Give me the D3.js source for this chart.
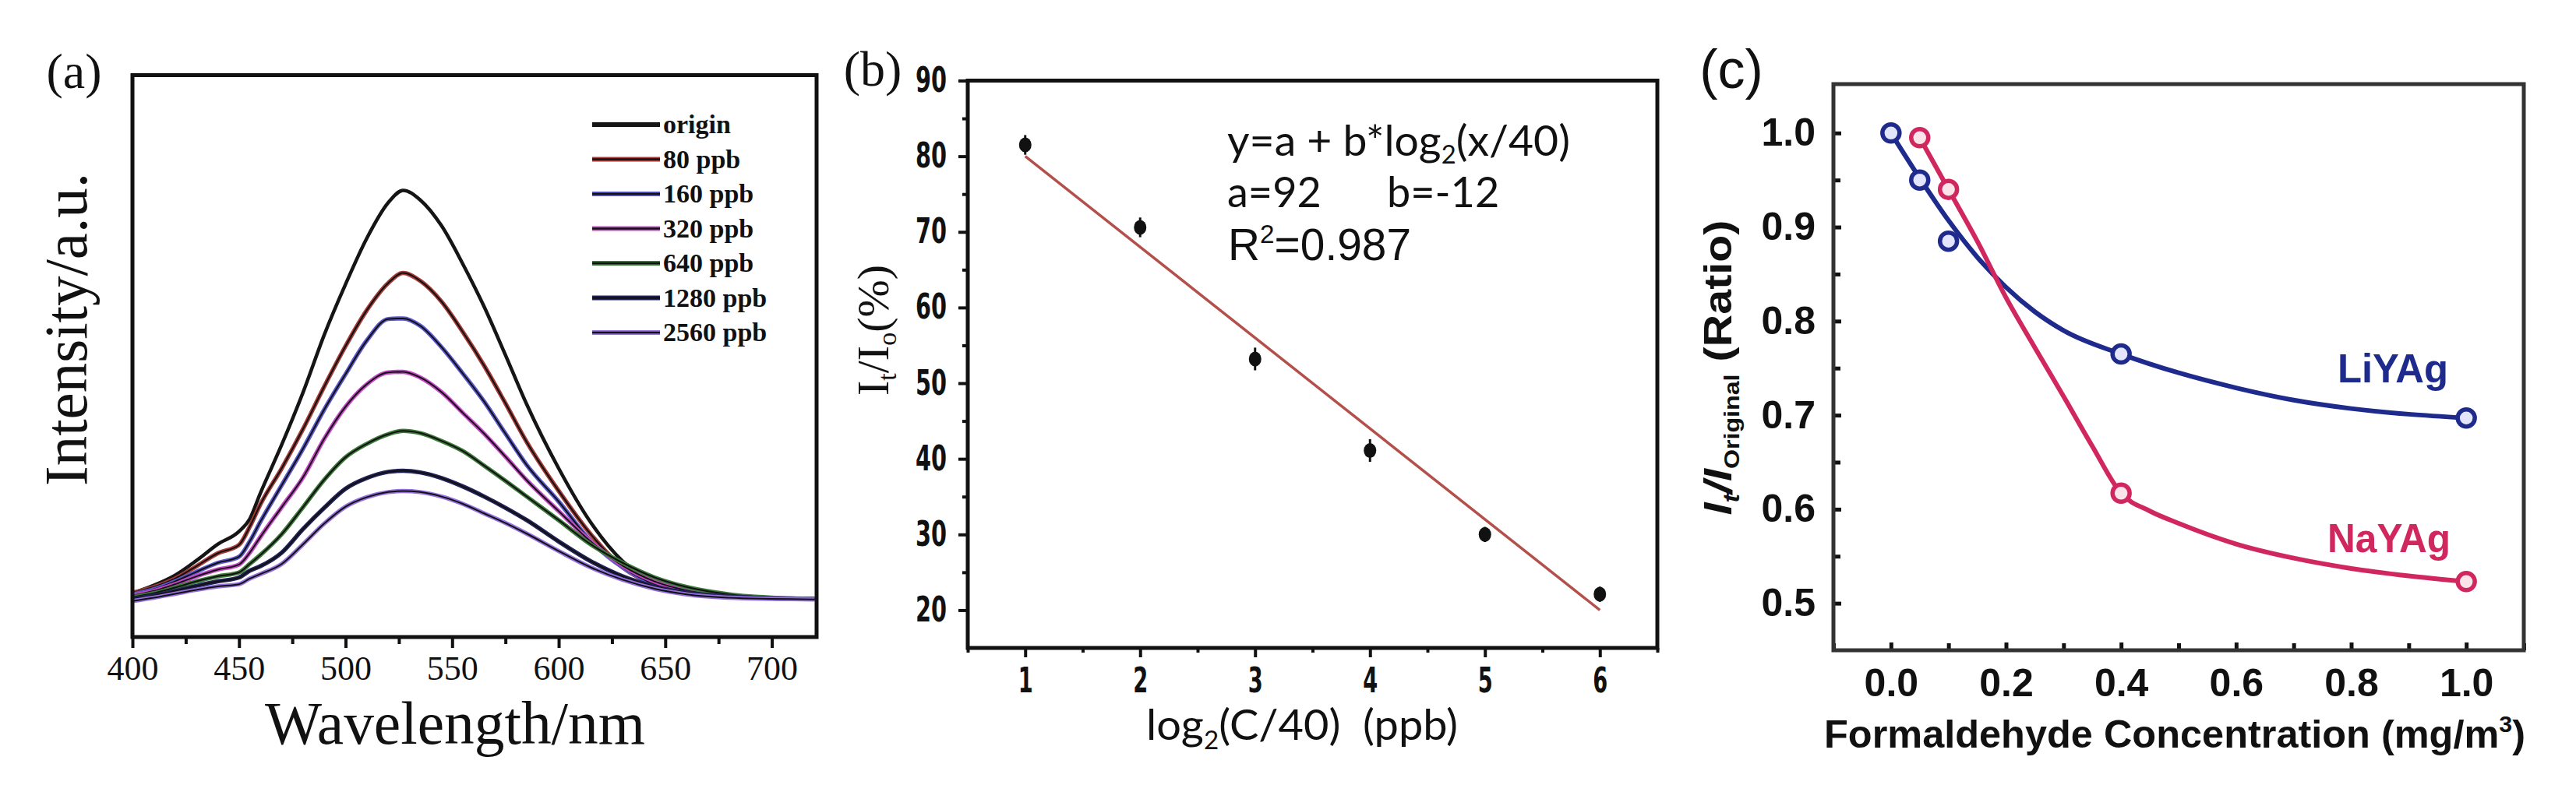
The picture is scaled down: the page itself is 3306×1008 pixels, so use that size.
<!DOCTYPE html>
<html>
<head>
<meta charset="utf-8">
<script src="https://cdn.jsdelivr.net/npm/d3@7"></script>
<style>
  body { margin: 0; background: #fff; }
  svg { display: block; }
</style>
</head>
<body>
<div id="wrapper"></div>
<script>
// ---- (a) emission spectra (a.u. = % of frame height)
const wavelengths = [400, 410, 420, 430, 440, 450, 455, 460, 470, 480, 490, 500, 510, 520, 527, 535, 545, 555, 565, 575, 585, 600, 615, 630, 645, 660, 680, 700, 720]
const spectraNames = ["origin", "80 ppb", "160 ppb", "320 ppb", "640 ppb", "1280 ppb", "2560 ppb"]
const specOrigin = [7.8, 9.2, 11.0, 13.6, 16.5, 18.8, 21.0, 25.6, 34.2, 43.5, 53.8, 62.8, 71.0, 77.3, 79.5, 77.8, 73.2, 66.4, 58.8, 50.2, 41.4, 30.0, 20.4, 13.5, 9.8, 8.0, 7.1, 6.9, 6.8]
const spec80 = [7.9, 8.9, 10.4, 12.6, 14.9, 16.4, 19.6, 23.6, 30.0, 37.0, 44.6, 51.8, 58.2, 63.0, 64.8, 63.4, 59.7, 54.3, 48.3, 41.6, 34.7, 26.0, 18.3, 12.4, 9.3, 7.8, 7.1, 6.9, 6.8]
const spec160 = [7.6, 8.5, 9.9, 11.6, 13.2, 14.3, 17.0, 20.5, 27.0, 33.5, 40.5, 46.8, 52.8, 56.6, 56.7, 55.4, 51.6, 46.9, 41.9, 36.2, 30.6, 24.1, 17.1, 12.4, 9.4, 8.0, 7.2, 6.9, 6.8]
const spec320 = [7.4, 8.2, 9.4, 10.8, 12.0, 12.9, 15.0, 17.8, 23.1, 28.4, 35.3, 41.0, 45.0, 47.1, 47.2, 46.2, 43.6, 39.9, 36.2, 32.1, 27.9, 22.4, 17.0, 12.7, 9.9, 8.3, 7.3, 6.9, 6.8]
const spec640 = [7.1, 7.8, 8.8, 9.9, 10.8, 11.5, 13.0, 14.6, 18.3, 23.1, 28.0, 32.0, 34.4, 36.1, 36.7, 36.3, 34.9, 33.1, 30.5, 27.8, 25.0, 20.8, 16.5, 13.2, 10.6, 8.9, 7.6, 7.0, 6.8]
const spec1280 = [6.8, 7.4, 8.2, 9.1, 9.9, 10.6, 11.8, 12.6, 15.0, 19.2, 23.0, 26.4, 28.3, 29.4, 29.6, 29.3, 28.3, 26.8, 25.0, 23.0, 20.8, 17.0, 13.5, 10.8, 9.0, 7.9, 7.2, 6.9, 6.8]
const spec2560 = [6.4, 7.0, 7.7, 8.4, 9.0, 9.4, 10.4, 11.2, 13.0, 16.5, 20.2, 23.2, 24.9, 25.8, 26.0, 25.8, 25.0, 23.7, 22.0, 20.3, 18.4, 15.3, 12.4, 10.2, 8.6, 7.6, 7.0, 6.8, 6.7]
const waveTicks = [400, 450, 500, 550, 600, 650, 700]
const waveMinorTicks = [425, 475, 525, 575, 625, 675]

// ---- (b) quenching vs log2(C/40)
const logConc = [1, 2, 3, 4, 5, 6]
const quenchPct = [81.5, 70.6, 53.2, 41.1, 30.0, 22.1]
const quenchErr = [1.3, 1.3, 1.5, 1.5, 1.0, 1.0]
const fitX = [1, 6]
const fitY = [80, 20]
const logTicks = [1, 2, 3, 4, 5, 6]
const logMinorTicks = [0.5, 1.5, 2.5, 3.5, 4.5, 5.5, 6.5]
const pctTicks = [20, 30, 40, 50, 60, 70, 80, 90]
const pctMinorTicks = [25, 35, 45, 55, 65, 75, 85]

// ---- (c) ratio vs formaldehyde concentration
const liConc = [0, 0.05, 0.1, 0.4, 1.0]
const liRatio = [1.0, 0.95, 0.885, 0.765, 0.697]
const naConc = [0.05, 0.1, 0.4, 1.0]
const naRatio = [0.995, 0.94, 0.617, 0.523]
const liFitConc = [0, 0.05, 0.1, 0.15, 0.2, 0.25, 0.3, 0.4, 0.5, 0.6, 0.7, 0.8, 0.9, 1.0]
const liFitRatio = [1.0, 0.952, 0.907, 0.868, 0.836, 0.81, 0.79, 0.765, 0.745, 0.729, 0.716, 0.707, 0.701, 0.697]
const naFitConc = [0.05, 0.1, 0.15, 0.2, 0.25, 0.3, 0.35, 0.4, 0.45, 0.5, 0.6, 0.7, 0.8, 0.9, 1.0]
const naFitRatio = [0.995, 0.94, 0.885, 0.825, 0.772, 0.72, 0.667, 0.617, 0.598, 0.585, 0.563, 0.548, 0.537, 0.529, 0.523]
const concTicks = [0, 0.2, 0.4, 0.6, 0.8, 1.0]
const concMinorTicks = [-0.1, 0.1, 0.3, 0.5, 0.7, 0.9, 1.1]
const ratioTicks = [0.5, 0.6, 0.7, 0.8, 0.9, 1.0]
const ratioMinorTicks = [0.55, 0.65, 0.75, 0.85, 0.95]

const serif = "'Liberation Serif', 'DejaVu Serif', serif"
const humanist = "Lato, 'Open Sans', sans-serif"
const heavy = "'DejaVu Sans', 'Liberation Sans', sans-serif"
const sans = "'Liberation Sans', Arial, sans-serif"
const ink = "#111"

const styleAxis = (g, font, size, weight, strokeWidth) => {
    g.select(".domain").remove()
    g.selectAll(".tick line").attr("stroke", ink).attr("stroke-width", strokeWidth)
    g.selectAll(".tick text")
        .attr("font-family", font)
        .attr("font-size", size)
        .attr("font-weight", weight)
        .attr("fill", ink)
}

// squeeze the narrow digit labels of panel (b)
const narrowDigits = (g, perDigit) => {
    g.selectAll(".tick text")
        .attr("textLength", d => String(d).length * perDigit)
        .attr("lengthAdjust", "spacingAndGlyphs")
}

function drawFigure() {
    const dimensions = { width: 3306, height: 1008 }

    const wrapper = d3.select("#wrapper")
        .append("svg")
        .attr("width", dimensions.width)
        .attr("height", dimensions.height)

    wrapper.append("rect")
        .attr("width", dimensions.width)
        .attr("height", dimensions.height)
        .attr("fill", "#fff")

    drawSpectra(wrapper)
    drawQuench(wrapper)
    drawRatio(wrapper)
}

// (a)
function drawSpectra(wrapper) {
    const box = { left: 170, right: 1048, top: 96.5, bottom: 818 }
    const bounds = wrapper.append("g").attr("class", "panel-a")

    const xScaler = d3.scaleLinear().domain([400, 721]).range([box.left, box.right])
    const yScaler = d3.scaleLinear().domain([0, 100]).range([box.bottom, box.top])

    const series = [specOrigin, spec80, spec160, spec320, spec640, spec1280, spec2560]
    const colors = ["#151515", "#a53a36", "#5a56cc", "#c648c8", "#3d7a3a", "#22225a", "#9470e0"]

    const lineGenerator = d3.line()
        .x((d, i) => xScaler(wavelengths[i]))
        .y(d => yScaler(d))
        .curve(d3.curveMonotoneX)

    series.forEach((values, i) => {
        bounds.append("path")
            .attr("d", lineGenerator(values))
            .attr("fill", "none")
            .attr("stroke", colors[i])
            .attr("stroke-width", i === 0 ? 4.5 : 5.5)
        if (i > 0) {
            bounds.append("path")
                .attr("d", lineGenerator(values))
                .attr("fill", "none")
                .attr("stroke", "#111")
                .attr("stroke-width", 2)
        }
    })

    // legend
    const legend = bounds.append("g")
    spectraNames.forEach((name, i) => {
        const ly = 160 + i * 44.5
        legend.append("line")
            .attr("x1", 760).attr("x2", 847).attr("y1", ly).attr("y2", ly)
            .attr("stroke", colors[i]).attr("stroke-width", 6)
        if (i > 0) {
            legend.append("line")
                .attr("x1", 760).attr("x2", 847).attr("y1", ly).attr("y2", ly)
                .attr("stroke", "#111").attr("stroke-width", 2.5)
        }
        legend.append("text")
            .attr("x", 851).attr("y", ly + 11)
            .attr("font-family", serif).attr("font-size", 34).attr("font-weight", "bold")
            .attr("fill", ink)
            .text(name)
    })

    bounds.append("g")
        .attr("transform", `translate(0,${box.bottom})`)
        .call(d3.axisBottom(xScaler).tickValues(waveMinorTicks).tickSize(9).tickFormat(""))
        .call(g => styleAxis(g, serif, 44, "normal", 4))

    bounds.append("g")
        .attr("transform", `translate(0,${box.bottom})`)
        .call(d3.axisBottom(xScaler).tickValues(waveTicks).tickSize(14).tickPadding(10)
            .tickSizeOuter(0).tickFormat(d3.format("d")))
        .call(g => styleAxis(g, serif, 44, "normal", 4))
        .call(g => g.selectAll(".tick text").attr("textLength", 66).attr("lengthAdjust", "spacingAndGlyphs"))

    bounds.append("rect")
        .attr("x", box.left).attr("y", box.top)
        .attr("width", box.right - box.left).attr("height", box.bottom - box.top)
        .attr("fill", "none").attr("stroke", ink).attr("stroke-width", 5)

    bounds.append("text")
        .attr("x", 95).attr("y", 113)
        .attr("text-anchor", "middle")
        .attr("font-family", serif).attr("font-size", 64).attr("fill", ink)
        .text("(a)")

    bounds.append("text")
        .attr("transform", "translate(111,423) rotate(-90)")
        .attr("text-anchor", "middle")
        .attr("font-family", serif).attr("font-size", 78).attr("fill", ink)
        .attr("textLength", 402).attr("lengthAdjust", "spacingAndGlyphs")
        .text("Intensity/a.u.")

    bounds.append("text")
        .attr("x", 584).attr("y", 955)
        .attr("text-anchor", "middle")
        .attr("font-family", serif).attr("font-size", 78).attr("fill", ink)
        .attr("textLength", 488).attr("lengthAdjust", "spacingAndGlyphs")
        .text("Wavelength/nm")
}

// (b)
function drawQuench(wrapper) {
    const box = { left: 1242, right: 2127, top: 103.5, bottom: 832 }
    const bounds = wrapper.append("g").attr("class", "panel-b")

    const xScaler = d3.scaleLinear().domain([0.5, 6.5]).range([box.left, box.right])
    const yScaler = d3.scaleLinear().domain([15, 90]).range([box.bottom, box.top])

    bounds.append("line")
        .attr("x1", xScaler(fitX[0])).attr("y1", yScaler(fitY[0]))
        .attr("x2", xScaler(fitX[1])).attr("y2", yScaler(fitY[1]))
        .attr("stroke", "#b4504c").attr("stroke-width", 3.5)

    const points = bounds.append("g")
        .selectAll("g")
        .data(logConc)
        .join("g")

    points.append("line")
        .attr("x1", d => xScaler(d)).attr("x2", d => xScaler(d))
        .attr("y1", (d, i) => yScaler(quenchPct[i] - quenchErr[i]))
        .attr("y2", (d, i) => yScaler(quenchPct[i] + quenchErr[i]))
        .attr("stroke", ink).attr("stroke-width", 3)

    points.append("ellipse")
        .attr("cx", d => xScaler(d))
        .attr("cy", (d, i) => yScaler(quenchPct[i]))
        .attr("rx", 8).attr("ry", 9.5)
        .attr("fill", ink)

    bounds.append("g")
        .attr("transform", `translate(0,${box.bottom})`)
        .call(d3.axisBottom(xScaler).tickValues(logMinorTicks).tickSize(6).tickFormat(""))
        .call(g => styleAxis(g, heavy, 44, "bold", 4))
    bounds.append("g")
        .attr("transform", `translate(0,${box.bottom})`)
        .call(d3.axisBottom(xScaler).tickValues(logTicks).tickSize(12).tickPadding(14)
            .tickSizeOuter(0).tickFormat(d3.format("d")))
        .call(g => styleAxis(g, heavy, 44, "bold", 4))
        .call(g => narrowDigits(g, 19))

    bounds.append("g")
        .attr("transform", `translate(${box.left},0)`)
        .call(d3.axisLeft(yScaler).tickValues(pctMinorTicks).tickSize(7).tickFormat(""))
        .call(g => styleAxis(g, heavy, 44, "bold", 4))
    bounds.append("g")
        .attr("transform", `translate(${box.left},0)`)
        .call(d3.axisLeft(yScaler).tickValues(pctTicks).tickSize(12).tickPadding(15)
            .tickSizeOuter(0).tickFormat(d3.format("d")))
        .call(g => styleAxis(g, heavy, 44, "bold", 4))
        .call(g => narrowDigits(g, 20))

    bounds.append("rect")
        .attr("x", box.left).attr("y", box.top)
        .attr("width", box.right - box.left).attr("height", box.bottom - box.top)
        .attr("fill", "none").attr("stroke", ink).attr("stroke-width", 5)

    bounds.append("text")
        .attr("x", 1120).attr("y", 110)
        .attr("text-anchor", "middle")
        .attr("font-family", serif).attr("font-size", 64).attr("fill", ink)
        .text("(b)")

    // y title I_t/I_0(%)
    const yTitle = bounds.append("text")
        .attr("transform", "translate(1140,424) rotate(-90)")
        .attr("text-anchor", "middle")
        .attr("font-family", serif).attr("font-size", 58).attr("fill", ink)
    yTitle.append("tspan").text("I")
    yTitle.append("tspan").attr("font-size", 34).attr("dy", 10).text("t")
    yTitle.append("tspan").attr("dy", -10).text("/I")
    yTitle.append("tspan").attr("font-size", 34).attr("dy", 10).text("o")
    yTitle.append("tspan").attr("dy", -10).text("(%)")

    // x title log2(C/40) (ppb)
    const xTitle = bounds.append("text")
        .attr("x", 1671).attr("y", 950)
        .attr("text-anchor", "middle")
        .attr("font-family", humanist).attr("font-size", 54).attr("fill", ink)
        .style("white-space", "pre")
        .attr("textLength", 400).attr("lengthAdjust", "spacingAndGlyphs")
    xTitle.append("tspan").text("log")
    xTitle.append("tspan").attr("font-size", 32).attr("dy", 12).text("2")
    xTitle.append("tspan").attr("dy", -12).text("(C/40)  (ppb)")

    // fit annotation
    const eq = bounds.append("text")
        .attr("x", 1575).attr("y", 200)
        .attr("font-family", humanist).attr("font-size", 54).attr("fill", ink)
        .attr("textLength", 440).attr("lengthAdjust", "spacingAndGlyphs")
    eq.append("tspan").text("y=a + b*log")
    eq.append("tspan").attr("font-size", 32).attr("dy", 10).text("2")
    eq.append("tspan").attr("dy", -10).text("(x/40)")

    bounds.append("text")
        .attr("x", 1575).attr("y", 266)
        .attr("font-family", humanist).attr("font-size", 54).attr("fill", ink)
        .text("a=92")
    bounds.append("text")
        .attr("x", 1780).attr("y", 266)
        .attr("font-family", humanist).attr("font-size", 54).attr("fill", ink)
        .text("b=-12")

    const r2 = bounds.append("text")
        .attr("x", 1576).attr("y", 334)
        .attr("font-family", sans).attr("font-size", 58).attr("fill", ink)
        .attr("textLength", 235).attr("lengthAdjust", "spacingAndGlyphs")
    r2.append("tspan").text("R")
    r2.append("tspan").attr("font-size", 34).attr("dy", -22).text("2")
    r2.append("tspan").attr("dy", 22).text("=0.987")
}

// (c)
function drawRatio(wrapper) {
    const box = { left: 2353, right: 3239, top: 108, bottom: 835 }
    const bounds = wrapper.append("g").attr("class", "panel-c")
    const blue = "#1f2b8c"
    const red = "#d1275f"

    const xScaler = d3.scaleLinear().domain([-0.1, 1.1]).range([box.left, box.right])
    const yScaler = d3.scaleLinear().domain([0.45, 1.052]).range([box.bottom, box.top])

    const lineGenerator = (xs) => d3.line()
        .x((d, i) => xScaler(xs[i]))
        .y(d => yScaler(d))
        .curve(d3.curveMonotoneX)

    bounds.append("path")
        .attr("d", lineGenerator(liFitConc)(liFitRatio))
        .attr("fill", "none").attr("stroke", blue).attr("stroke-width", 6)
    bounds.append("path")
        .attr("d", lineGenerator(naFitConc)(naFitRatio))
        .attr("fill", "none").attr("stroke", red).attr("stroke-width", 6)

    bounds.append("g").selectAll("circle")
        .data(naConc)
        .join("circle")
        .attr("cx", d => xScaler(d))
        .attr("cy", (d, i) => yScaler(naRatio[i]))
        .attr("r", 11)
        .attr("fill", "#fbe3ec").attr("stroke", red).attr("stroke-width", 5.5)

    bounds.append("g").selectAll("circle")
        .data(liConc)
        .join("circle")
        .attr("cx", d => xScaler(d))
        .attr("cy", (d, i) => yScaler(liRatio[i]))
        .attr("r", 11)
        .attr("fill", "#e2e5fb").attr("stroke", blue).attr("stroke-width", 5.5)

    bounds.append("text")
        .attr("x", 3071).attr("y", 491)
        .attr("text-anchor", "middle")
        .attr("font-family", sans).attr("font-size", 52).attr("font-weight", "bold")
        .attr("fill", blue)
        .attr("textLength", 142).attr("lengthAdjust", "spacingAndGlyphs")
        .text("LiYAg")
    bounds.append("text")
        .attr("x", 3066).attr("y", 709)
        .attr("text-anchor", "middle")
        .attr("font-family", sans).attr("font-size", 52).attr("font-weight", "bold")
        .attr("fill", red)
        .attr("textLength", 158).attr("lengthAdjust", "spacingAndGlyphs")
        .text("NaYAg")

    bounds.append("g")
        .attr("transform", `translate(0,${box.bottom})`)
        .call(d3.axisBottom(xScaler).tickValues(concMinorTicks).tickSize(-9).tickFormat(""))
        .call(g => styleAxis(g, sans, 50, "bold", 5))
    bounds.append("g")
        .attr("transform", `translate(0,${box.bottom})`)
        .call(d3.axisBottom(xScaler).tickValues(concTicks).tickSize(-10).tickPadding(23)
            .tickSizeOuter(0).tickFormat(d3.format(".1f")))
        .call(g => styleAxis(g, sans, 50, "bold", 5))

    bounds.append("g")
        .attr("transform", `translate(${box.left},0)`)
        .call(d3.axisLeft(yScaler).tickValues(ratioMinorTicks).tickSize(-9).tickFormat(""))
        .call(g => styleAxis(g, sans, 50, "bold", 5))
    bounds.append("g")
        .attr("transform", `translate(${box.left},0)`)
        .call(d3.axisLeft(yScaler).tickValues(ratioTicks).tickSize(-10).tickPadding(23)
            .tickSizeOuter(0).tickFormat(d3.format(".1f")))
        .call(g => styleAxis(g, sans, 50, "bold", 5))

    bounds.append("rect")
        .attr("x", box.left).attr("y", box.top)
        .attr("width", box.right - box.left).attr("height", box.bottom - box.top)
        .attr("fill", "none").attr("stroke", "#333").attr("stroke-width", 5)

    bounds.append("text")
        .attr("x", 2222).attr("y", 113)
        .attr("text-anchor", "middle")
        .attr("font-family", sans).attr("font-size", 70).attr("fill", ink)
        .text("(c)")

    const xTitle = bounds.append("text")
        .attr("x", 2791).attr("y", 960)
        .attr("text-anchor", "middle")
        .attr("font-family", sans).attr("font-size", 50).attr("font-weight", "bold")
        .attr("fill", ink)
        .attr("textLength", 900).attr("lengthAdjust", "spacingAndGlyphs")
    xTitle.append("tspan").text("Formaldehyde Concentration (mg/m")
    xTitle.append("tspan").attr("font-size", 30).attr("dy", -20).text("3")
    xTitle.append("tspan").attr("dy", 20).text(")")

    const yTitle = bounds.append("text")
        .attr("transform", "translate(2222,472) rotate(-90)")
        .attr("text-anchor", "middle")
        .attr("font-family", sans).attr("font-size", 50).attr("font-weight", "bold")
        .attr("fill", ink)
        .attr("textLength", 379).attr("lengthAdjust", "spacingAndGlyphs")
    yTitle.append("tspan").attr("font-style", "italic").text("I")
    yTitle.append("tspan").attr("font-style", "italic").attr("font-size", 30).attr("dy", 10).text("t")
    yTitle.append("tspan").attr("font-style", "italic").attr("dy", -10).text("/I")
    yTitle.append("tspan").attr("font-size", 28).attr("dy", 10).text("Original")
    yTitle.append("tspan").attr("dy", -10).text(" (Ratio)")
}

drawFigure()
</script>
</body>
</html>
